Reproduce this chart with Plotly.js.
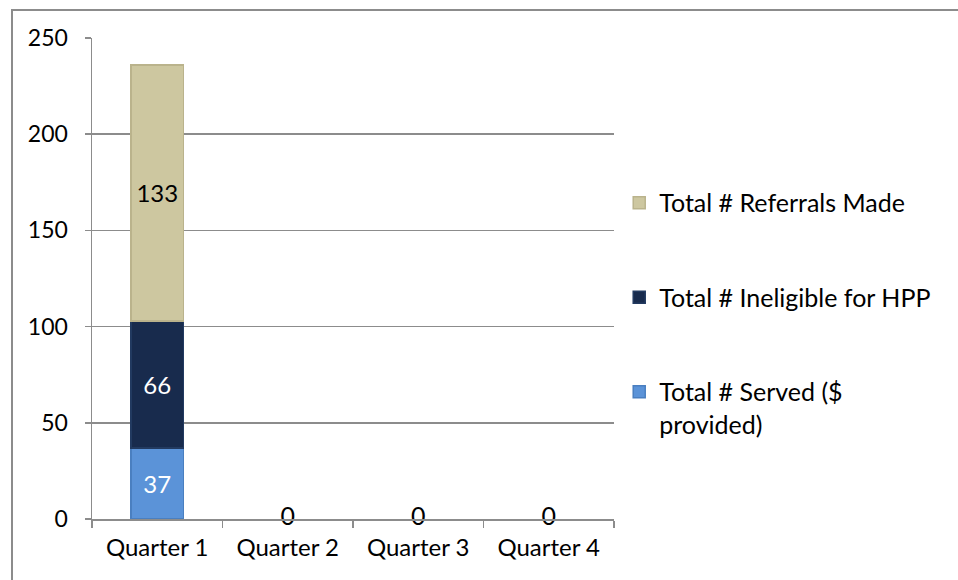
<!DOCTYPE html>
<html>
<head>
<meta charset="utf-8">
<script src="https://cdn.plot.ly/plotly-3.0.1.min.js"></script>
<style>
html,body{margin:0;padding:0;background:#fff;}
#chart{width:958px;height:580px;position:absolute;left:0;top:0;}
#frame{position:absolute;left:11px;top:9px;width:960px;height:600px;border-left:2px solid #8c8c8c;border-top:2px solid #8c8c8c;pointer-events:none;}
</style>
</head>
<body>
<div id="chart"></div>
<div id="frame"></div>
<script>
const quarters = ["Quarter 1", "Quarter 2", "Quarter 3", "Quarter 4"];
const served = [37, 0, 0, 0];
const ineligible = [66, 0, 0, 0];
const referrals = [133, 0, 0, 0];
const seriesNames = ["Total # Served ($<br>provided)", "Total # Ineligible for HPP", "Total # Referrals Made"];

const FONT = "Lato, 'Open Sans', sans-serif";
const totals = quarters.map((q, i) => served[i] + ineligible[i] + referrals[i]);

function barTrace(vals, name, color, lineColor, textColor, group, rank) {
  return {
    type: "bar", x: quarters, y: vals, name: name,
    legendgroup: group, legendrank: rank,
    marker: {color: color, line: {color: lineColor, width: vals.map(v => v > 0 ? 1.5 : 0)}},
    width: 0.4,
    text: vals.map(v => v > 0 ? String(v) : ""),
    textposition: "inside", insidetextanchor: "middle",
    textfont: {color: textColor, size: 24, family: FONT},
    hoverinfo: "x+y+name"
  };
}

const traces = [
  barTrace(served, seriesNames[0], "#5b93d8", "#4a7fc0", "#ffffff", "a", 3),
  barTrace(ineligible, seriesNames[1], "#182b4d", "#223a60", "#ffffff", "b", 2),
  barTrace(referrals, seriesNames[2], "#cdc7a0", "#bab38c", "#000000", "c", 1),
  {
    type: "scatter", mode: "text", x: quarters, y: totals.map(() => 0),
    text: totals.map(t => t === 0 ? String(t) : ""),
    textposition: "middle center",
    textfont: {color: "#000000", size: 25, family: FONT},
    showlegend: false, hoverinfo: "skip", cliponaxis: false
  }
];

const layout = {
  width: 958, height: 580,
  margin: {l: 92, r: 344, t: 38, b: 61, autoexpand: false},
  paper_bgcolor: "#ffffff", plot_bgcolor: "#ffffff",
  barmode: "stack",
  font: {family: FONT, size: 24, color: "#000000"},
  showlegend: true,
  legend: {
    x: 1.01, xanchor: "left", y: 0.705, yanchor: "top",
    traceorder: "grouped", tracegroupgap: 59,
    valign: "top", itemwidth: 30,
    font: {family: FONT, size: 25, color: "#000000"}
  },
  xaxis: {
    type: "category", range: [-0.5, 3.5],
    showline: true, linecolor: "#8c8c8c", linewidth: 1.5,
    ticks: "outside", tickson: "boundaries", ticklen: 7, tickcolor: "#8c8c8c", tickwidth: 1.5,
    showgrid: false, zeroline: false,
    tickfont: {family: FONT, size: 24, color: "#000000"},
    ticklabelstandoff: 7
  },
  yaxis: {
    range: [0, 250], dtick: 50, tick0: 0,
    showline: true, linecolor: "#8c8c8c", linewidth: 1.5,
    ticks: "outside", ticklen: 6, tickcolor: "#8c8c8c", tickwidth: 1.5,
    showgrid: true, gridcolor: "#8c8c8c", gridwidth: 1.5,
    zeroline: false,
    tickfont: {family: FONT, size: 23, color: "#000000"},
    ticklabelstandoff: 12
  }
};

Plotly.newPlot("chart", traces, layout, {displayModeBar: false, staticPlot: true});
</script>
</body>
</html>
